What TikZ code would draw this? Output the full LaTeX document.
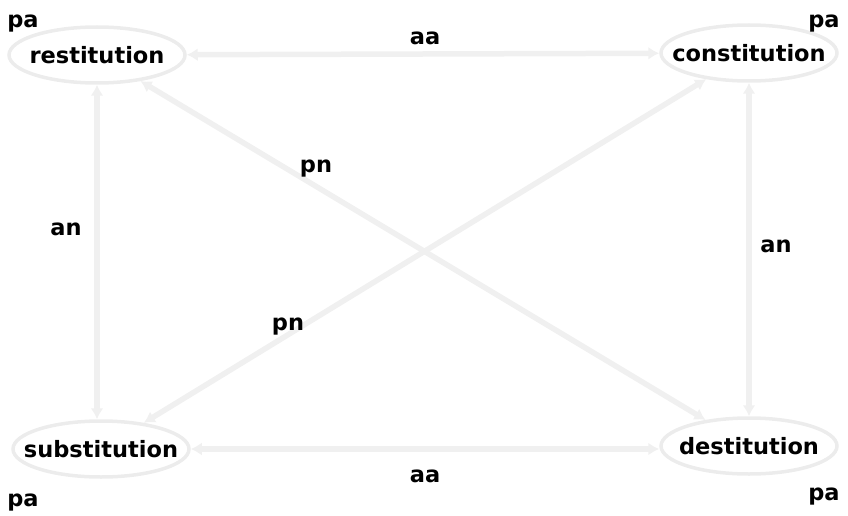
\documentclass[tikz,border=0pt]{standalone}
\usepackage{fontspec}
\setmainfont{DejaVu Sans}
\usepackage{xcolor}
\usetikzlibrary{arrows.meta, positioning, shapes.geometric}
\definecolor{linkgray}{RGB}{240, 240, 240}
\definecolor{rimgray}{RGB}{236, 236, 236}

\begin{document}
\begin{tikzpicture}[x=1pt,y=-1pt,
          every node/.style={font=\bfseries\fontsize{22.5}{26}\selectfont},
          term/.style={ellipse,draw=rimgray,line width=3.5pt,
                       minimum width=176pt,minimum height=56pt,inner sep=0pt},
          link/.style={linkgray,line width=5.5pt,
                       {Latex[length=11pt,width=13pt]}-{Latex[length=11pt,width=13pt]}},
          tag/.style={anchor=base,inner sep=0pt}]
        \useasboundingbox (0,0) rectangle (848,516);
        % the four corners
        \node[term,label={center:restitution}](rest) at (97,55){};
        \node[term,label={center:constitution}](cons) at (749,53){};
        \node[term,label={center:substitution}](subs) at (101,449){};
        \node[term,label={center:destitution}](dest) at (749,446){};
        % connectors
        \draw[link](rest)--(cons);
        \draw[link](subs.east)--(subs.east-|dest.west);
        \draw[link](rest.south)--(rest.south|-subs.north);
        \draw[link](cons.south)--(dest.north);
        \draw[link](rest)--(dest);
        \draw[link](cons)--(subs);
        % relation tags
        \node[tag](paA) at (23,28){pa};
        \node[tag](paB) at (824,28){pa};
        \node[tag](paC) at (23,506){pa};
        \node[tag](paD) at (824,500){pa};
        \node[tag](aaT) at (425,45){aa};
        \node[tag](aaB) at (425,482){aa};
        \node[tag](anL) at (66,235){an};
        \node[tag](anR) at (776,252){an};
        \node[tag](pnT) at (316,172){pn};
        \node[tag](pnB) at (288,330){pn};
      \end{tikzpicture}
\end{document}
